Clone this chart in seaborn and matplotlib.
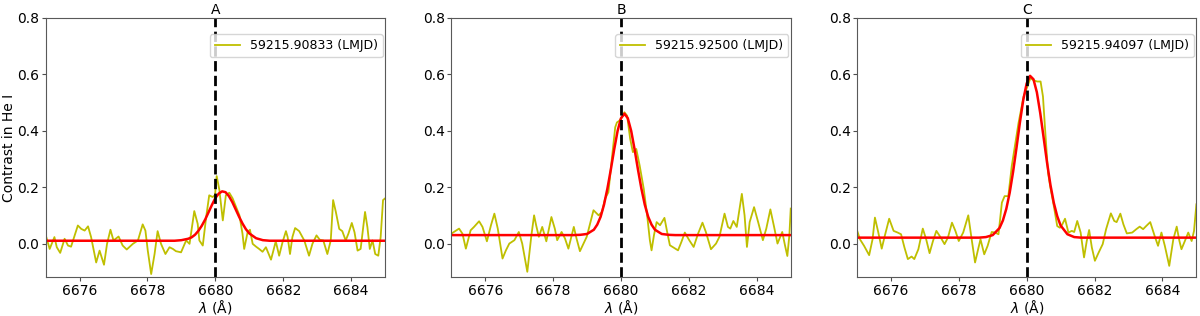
import matplotlib
matplotlib.use("Agg")
import matplotlib.pyplot as plt
import seaborn as sns

# panel titles and legend labels
panel_names = ["A", "B", "C"]
lmjd_labels = ["59215.90833 (LMJD)", "59215.92500 (LMJD)", "59215.94097 (LMJD)"]
line_centre = 6680.0

wl_a = [6675.0, 6675.02, 6675.12, 6675.26, 6675.33, 6675.43, 6675.56, 6675.66, 6675.75,
        6675.95, 6676.05, 6676.15, 6676.25, 6676.34, 6676.49, 6676.59, 6676.72, 6676.81,
        6676.91, 6677.0, 6677.15, 6677.27, 6677.39, 6677.57, 6677.72, 6677.86, 6677.94,
        6678.01, 6678.11, 6678.21, 6678.30, 6678.40, 6678.53, 6678.65, 6678.75, 6678.84,
        6678.99, 6679.14, 6679.24, 6679.38, 6679.48, 6679.53, 6679.63, 6679.73, 6679.82,
        6679.92, 6679.99, 6680.04, 6680.12, 6680.22, 6680.31, 6680.41, 6680.51, 6680.61,
        6680.71, 6680.80, 6680.85, 6680.95, 6681.02, 6681.10, 6681.20, 6681.29, 6681.39,
        6681.49, 6681.64, 6681.71, 6681.78, 6681.88, 6681.98, 6682.08, 6682.13, 6682.20,
        6682.27, 6682.35, 6682.47, 6682.62, 6682.76, 6682.86, 6682.98, 6683.08, 6683.18,
        6683.30, 6683.40, 6683.47, 6683.55, 6683.65, 6683.74, 6683.84, 6683.92, 6684.02,
        6684.10, 6684.19, 6684.28, 6684.41, 6684.48, 6684.55, 6684.63, 6684.71, 6684.80,
        6684.87, 6684.94, 6685.0]
contrast_a = [0.03, 0.023, -0.019, 0.023, -0.013, -0.033, 0.017, -0.007, -0.011,
              0.064, 0.052, 0.046, 0.061, 0.023, -0.067, -0.025, -0.075, -0.001,
              0.049, 0.011, 0.025, -0.007, -0.021, -0.001, 0.011, 0.068, 0.046,
              -0.025, -0.108, -0.037, 0.044, -0.001, -0.037, -0.013, -0.019, -0.027,
              -0.031, 0.011, -0.001, 0.115, 0.070, 0.011, -0.007, 0.094, 0.171,
              0.165, 0.171, 0.239, 0.189, 0.082, 0.171, 0.180, 0.160, 0.130,
              0.100, 0.035, -0.019, 0.040, 0.049, -0.001, -0.011, -0.019, -0.029,
              -0.013, -0.057, -0.025, 0.008, -0.043, 0.005, 0.044, 0.023, -0.037,
              0.023, 0.055, 0.044, 0.011, -0.043, -0.001, 0.029, 0.013, 0.011,
              -0.037, 0.011, 0.154, 0.112, 0.052, 0.044, 0.011, 0.035, 0.073,
              0.040, -0.025, -0.019, 0.112, 0.058, -0.019, 0.011, -0.037, -0.043,
              0.023, 0.154, 0.16]

wl_b = [6675.0, 6675.23, 6675.33, 6675.43, 6675.57, 6675.67, 6675.82, 6675.92, 6676.05,
        6676.17, 6676.27, 6676.37, 6676.51, 6676.61, 6676.71, 6676.86, 6676.99, 6677.09,
        6677.24, 6677.36, 6677.44, 6677.50, 6677.58, 6677.68, 6677.80, 6677.95, 6678.05,
        6678.12, 6678.25, 6678.35, 6678.45, 6678.61, 6678.69, 6678.79, 6678.99, 6679.19,
        6679.34, 6679.44, 6679.53, 6679.63, 6679.73, 6679.83, 6679.88, 6679.95, 6680.03,
        6680.10, 6680.18, 6680.27, 6680.35, 6680.45, 6680.55, 6680.67, 6680.77, 6680.85,
        6680.90, 6680.97, 6681.05, 6681.15, 6681.28, 6681.36, 6681.44, 6681.56, 6681.68,
        6681.78, 6681.88, 6682.01, 6682.14, 6682.27, 6682.40, 6682.50, 6682.65, 6682.80,
        6682.90, 6683.05, 6683.15, 6683.22, 6683.31, 6683.41, 6683.56, 6683.64, 6683.71,
        6683.79, 6683.92, 6684.04, 6684.18, 6684.28, 6684.40, 6684.51, 6684.61, 6684.75,
        6684.83, 6684.90, 6684.96, 6685.0]
contrast_b = [0.035, 0.053, 0.035, -0.018, 0.047, 0.059, 0.079, 0.059, 0.008,
              0.065, 0.106, 0.053, -0.053, -0.024, 0.0, 0.012, 0.041, 0.0,
              -0.100, 0.029, 0.100, 0.065, 0.024, 0.059, 0.008, 0.094, 0.053,
              0.012, 0.041, 0.018, -0.018, 0.059, 0.018, -0.027, 0.024, 0.118,
              0.100, 0.112, 0.159, 0.182, 0.300, 0.412, 0.429, 0.435, 0.447,
              0.465, 0.453, 0.371, 0.324, 0.335, 0.276, 0.194, 0.100, 0.012,
              -0.024, 0.029, 0.076, 0.065, 0.091, 0.041, -0.006, -0.015, -0.024,
              0.006, 0.039, 0.012, -0.012, 0.035, 0.074, 0.041, -0.020, 0.0,
              0.024, 0.106, 0.059, 0.053, 0.080, 0.059, 0.176, 0.100, -0.012,
              0.076, 0.129, 0.076, 0.012, 0.053, 0.121, 0.059, 0.0, 0.041,
              -0.006, -0.044, 0.030, 0.124]

wl_c = [6675.0, 6675.09, 6675.21, 6675.36, 6675.46, 6675.53, 6675.63, 6675.73, 6675.82,
        6675.95, 6676.08, 6676.20, 6676.30, 6676.40, 6676.50, 6676.61, 6676.69, 6676.81,
        6676.94, 6677.04, 6677.14, 6677.24, 6677.34, 6677.47, 6677.58, 6677.68, 6677.80,
        6677.90, 6678.00, 6678.13, 6678.28, 6678.38, 6678.48, 6678.57, 6678.64, 6678.75,
        6678.85, 6678.97, 6679.07, 6679.17, 6679.27, 6679.35, 6679.46, 6679.56, 6679.76,
        6679.91, 6680.04, 6680.11, 6680.21, 6680.31, 6680.41, 6680.48, 6680.55, 6680.63,
        6680.70, 6680.80, 6680.90, 6680.98, 6681.05, 6681.13, 6681.23, 6681.33, 6681.40,
        6681.49, 6681.59, 6681.69, 6681.77, 6681.84, 6681.92, 6682.01, 6682.12, 6682.24,
        6682.34, 6682.48, 6682.58, 6682.65, 6682.76, 6682.85, 6682.95, 6683.11, 6683.23,
        6683.33, 6683.43, 6683.52, 6683.64, 6683.77, 6683.87, 6683.97, 6684.07, 6684.20,
        6684.32, 6684.42, 6684.50, 6684.56, 6684.66, 6684.76, 6684.86, 6684.93, 6685.0]
contrast_c = [0.048, 0.015, -0.008, -0.041, 0.015, 0.092, 0.039, -0.018, 0.027,
              0.088, 0.045, 0.039, 0.033, -0.014, -0.055, -0.046, -0.055, -0.020,
              0.053, 0.015, -0.034, 0.009, 0.045, 0.021, -0.002, 0.021, 0.074,
              0.045, 0.009, 0.039, 0.100, 0.015, -0.067, -0.020, 0.015, -0.038,
              -0.008, 0.041, 0.039, 0.033, 0.145, 0.168, 0.168, 0.274, 0.427,
              0.521, 0.562, 0.586, 0.578, 0.574, 0.574, 0.521, 0.392, 0.251,
              0.198, 0.133, 0.062, 0.056, 0.068, 0.088, 0.039, 0.045, 0.041,
              0.080, 0.039, -0.049, 0.009, 0.048, -0.014, -0.061, -0.032, -0.002,
              0.051, 0.107, 0.080, 0.076, 0.106, 0.068, 0.036, 0.039, 0.051,
              0.060, 0.051, 0.062, 0.076, 0.027, -0.008, 0.039, -0.008, -0.079,
              0.015, 0.060, 0.009, -0.020, 0.009, 0.039, 0.009, 0.045, 0.139]

# fitted profiles (red)
fit_wl = [6675.0, 6678.6, 6678.8, 6679.0, 6679.2, 6679.3, 6679.4, 6679.5, 6679.6,
          6679.7, 6679.8, 6679.9, 6680.0, 6680.1, 6680.2, 6680.3, 6680.4, 6680.5,
          6680.6, 6680.7, 6680.8, 6680.9, 6681.0, 6681.2, 6681.4, 6681.6, 6685.0]
fit_a = [0.010, 0.010, 0.010, 0.012, 0.017, 0.022, 0.031, 0.045, 0.063,
         0.085, 0.111, 0.137, 0.161, 0.177, 0.185, 0.182, 0.168, 0.147,
         0.121, 0.095, 0.071, 0.051, 0.036, 0.019, 0.012, 0.010, 0.010]
fit_b = [0.030, 0.030, 0.031, 0.034, 0.049, 0.067, 0.095, 0.138, 0.195,
         0.262, 0.334, 0.399, 0.444, 0.460, 0.444, 0.399, 0.334, 0.262,
         0.195, 0.138, 0.095, 0.067, 0.049, 0.034, 0.031, 0.030, 0.030]
fit_c = [0.021, 0.021, 0.023, 0.030, 0.055, 0.082, 0.123, 0.180, 0.254,
         0.339, 0.428, 0.509, 0.567, 0.594, 0.582, 0.536, 0.462, 0.375,
         0.287, 0.208, 0.144, 0.097, 0.064, 0.033, 0.023, 0.021, 0.021]


def plot_panel(ax, wl, contrast, fit, name, label):
    """one epoch: observed contrast, gaussian fit and rest wavelength"""
    sns.lineplot(x=wl, y=contrast, color="y", linewidth=1.3, ax=ax)
    sns.lineplot(x=fit_wl, y=fit, color="r", linewidth=1.8, ax=ax)
    ax.axvline(line_centre, color="k", linestyle="--", linewidth=2)

    ax.set_xlim(6675, 6685)
    ax.set_ylim(-0.12, 0.8)
    ax.set_xticks([6676, 6678, 6680, 6682, 6684])
    ax.set_yticks([0.0, 0.2, 0.4, 0.6, 0.8])
    ax.tick_params(labelsize=10, length=3, pad=1.5, color="0.3")
    for spine in ax.spines.values():
        spine.set_color("0.35")
    ax.set_title(name, fontsize=10, pad=3)
    ax.set_xlabel(r"$\lambda$ ($\mathrm{\AA}$)", fontsize=10, labelpad=0)

    # legend sits a little below the top of the axes in the original
    ax.legend(handles=[ax.lines[0]], labels=[label], loc="upper right",
              bbox_to_anchor=(1.0, 0.945), borderaxespad=0.2, fontsize=9,
              handlelength=2.0, handletextpad=0.8)


fig, axes = plt.subplots(1, 3, figsize=(12, 3.16), dpi=100)
fig.subplots_adjust(left=0.038, right=0.997, bottom=0.122, top=0.944, wspace=0.195)

series = [(wl_a, contrast_a, fit_a), (wl_b, contrast_b, fit_b), (wl_c, contrast_c, fit_c)]
for ax, (wl, contrast, fit), name, label in zip(axes, series, panel_names, lmjd_labels):
    plot_panel(ax, wl, contrast, fit, name, label)

axes[0].set_ylabel("Contrast in He I", fontsize=10, labelpad=1)

plt.savefig("out.png", dpi=100)
